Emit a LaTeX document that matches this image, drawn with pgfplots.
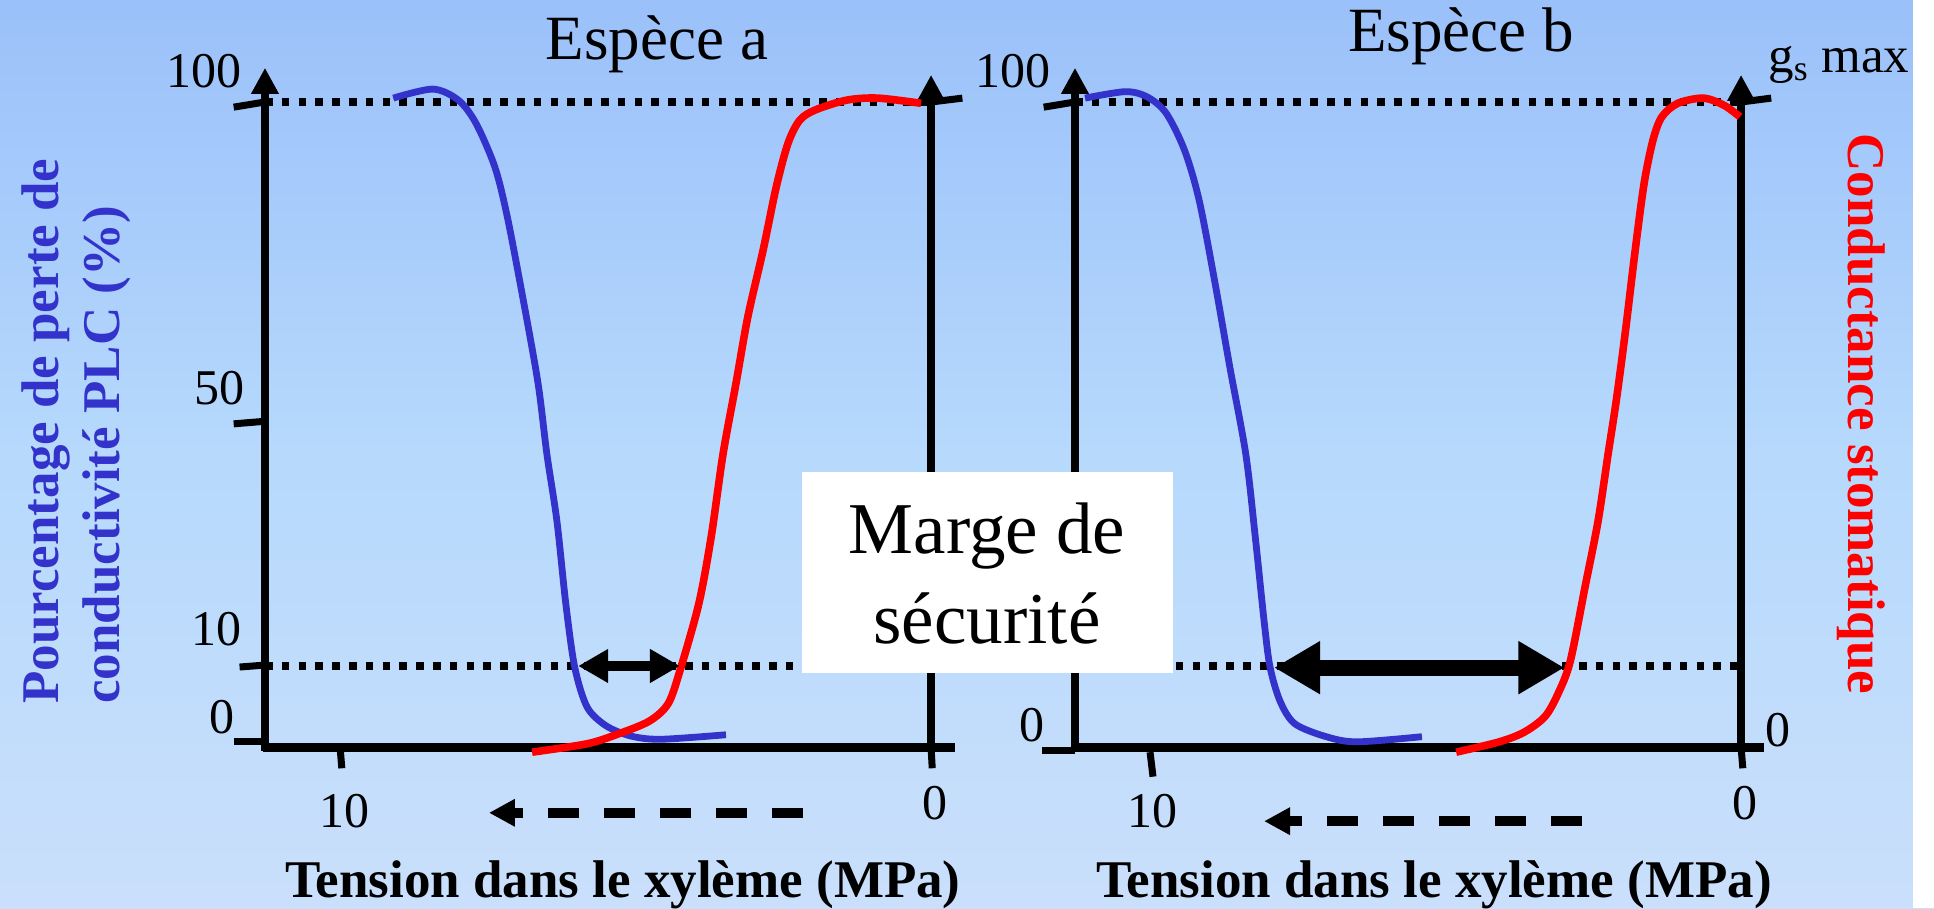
\documentclass[border=0pt]{standalone}
\usepackage{pgfplots}
\pgfplotsset{compat=1.18}
\usepackage{pgfplotstable}
\usepackage{fontspec}
\setmainfont{Liberation Serif}
\usetikzlibrary{arrows.meta}
\definecolor{plcblue}{HTML}{3333CC}
\definecolor{gsred}{HTML}{FF0000}
\definecolor{bgtop}{HTML}{80A8F8}
\definecolor{bgmid}{HTML}{B6D9FC}
\definecolor{bglow}{HTML}{CCE0FB}
\definecolor{bgbot}{HTML}{C4C8F7}
\pgfdeclareverticalshading{bgshade}{100bp}{color(0bp)=(bgbot); color(22bp)=(bglow); color(50bp)=(bgmid); color(100bp)=(bgtop)}

% Species a: PLC (%) vs xylem tension (MPa)
\pgfplotstableread{
t p
9.10 100.6
8.43 102.0
8.00 100.3
7.70 96.7
7.38 89.9
7.17 82.2
6.90 69.3
6.65 56.4
6.50 45.4
6.33 35.0
6.18 22.2
6.03 12.4
5.82 6.2
5.50 3.3
5.08 1.7
4.57 1.2
3.47 1.9
}\plca
% Species a: stomatal conductance
\pgfplotstableread{
t p
0.17 99.8
0.90 100.6
1.42 100.3
1.95 98.8
2.22 97.2
2.42 93.6
2.62 86.8
2.84 77.1
3.10 66.7
3.30 56.4
3.52 45.4
3.72 32.6
3.93 22.2
4.25 11.8
4.45 6.7
4.77 4.0
5.30 2.0
5.82 0.5
6.75 -0.8
}\gsa
% Species b: PLC
\pgfplotstableread{
t p
11.10 100.6
10.42 101.6
10.05 100.8
9.73 98.3
9.42 92.6
9.17 84.8
8.90 71.9
8.65 58.9
8.38 45.4
8.22 32.6
8.07 19.5
7.97 12.4
7.80 7.1
7.55 3.6
7.02 1.6
6.50 0.8
5.40 1.6
}\plcb
% Species b: stomatal conductance
\pgfplotstableread{
t p
0.02 97.7
0.29 99.5
0.64 100.6
1.07 99.8
1.34 97.7
1.49 94.1
1.64 87.4
1.79 77.1
1.96 64.2
2.11 53.8
2.25 45.4
2.42 35.0
2.64 24.8
2.89 13.3
3.10 8.2
3.32 4.7
3.67 2.3
4.09 0.8
4.82 -0.8
}\gsb

\pgfplotsset{panel/.style={hide axis, scale only axis, width=344.85pt, height=322.5pt,
  x dir=reverse, xmin=-0.4, xmax=11.27, ymin=0, ymax=100, clip=false, anchor=south west}}
\tikzset{
  dotline/.style={line width=3.6pt, dash pattern=on 3.8pt off 4.6pt},
  axln/.style={line width=3.8pt, -{Triangle[length=13pt,width=13pt]}},
  tk/.style={line width=3.5pt},
  tickfont/.style={font=\fontsize{25}{30}\selectfont, inner sep=0pt}
}

\begin{document}
\begin{tikzpicture}
\begin{scope}[x=0.5pt,y=-0.5pt]
\useasboundingbox (0,0) rectangle (1934,908);
\shade[shading=bgshade] (0,0) rectangle (1934,908);
\fill[white] (1913,0) rectangle (1934,908);
\end{scope}

% ---------- Species a ----------
\begin{axis}[panel, at={(132.5pt,-373.5pt)}]
\draw[dotline] (axis cs:11.27,100) -- (axis cs:0,100);
\draw[dotline] (axis cs:11.27,12.56) -- (axis cs:0,12.56);
\draw[line width=4.5pt] (axis cs:11.30,0) -- (axis cs:-0.4,0);
\draw[axln] (axis cs:11.27,-0.6) -- (axis cs:11.27,105.3);
\draw[axln] (axis cs:0,-0.6) -- (axis cs:0,104.2);
\draw[tk] (axis cs:11.27,100) -- (axis cs:11.80,99.2);
\draw[tk] (axis cs:11.27,50.5) -- (axis cs:11.80,50.1);
\draw[tk] (axis cs:11.27,12.7) -- (axis cs:11.70,12.4);
\draw[tk] (axis cs:11.27,0.9) -- (axis cs:11.80,0.9);
\draw[tk] (axis cs:0,100) -- (axis cs:-0.53,100.6);
\draw[tk] (axis cs:10,0) -- (axis cs:9.97,-3.3);
\draw[tk] (axis cs:0,0) -- (axis cs:-0.02,-3.3);
\addplot[plcblue, line width=3.4pt, smooth] table[x=t,y=p] {\plca};
\addplot[gsred, line width=3.8pt, smooth] table[x=t,y=p] {\gsa};
\draw[line width=5pt, {Triangle[length=15pt,width=16pt]}-{Triangle[length=15pt,width=16pt]}] (axis cs:5.97,12.56) -- (axis cs:4.25,12.56);
\draw[line width=5pt, dash pattern=on 15.5pt off 12.5pt, -{Triangle[length=13pt,width=13pt]}] (axis cs:2.17,-10.2) -- (axis cs:7.48,-10.2);
\end{axis}

% ---------- Species b ----------
\begin{axis}[panel, at={(537.5pt,-373.5pt)}]
\draw[dotline] (axis cs:11.27,100) -- (axis cs:0,100);
\draw[dotline] (axis cs:11.27,12.56) -- (axis cs:-0.08,12.56);
\draw[line width=4.5pt] (axis cs:11.27,0) -- (axis cs:-0.39,0);
\draw[axln] (axis cs:11.27,-0.6) -- (axis cs:11.27,105.3);
\draw[axln] (axis cs:0,-0.6) -- (axis cs:0,104.2);
\draw[tk] (axis cs:11.27,100) -- (axis cs:11.80,99.2);
\draw[tk] (axis cs:11.27,-0.5) -- (axis cs:11.82,-0.5);
\draw[tk] (axis cs:0,100) -- (axis cs:-0.51,100.6);
\draw[tk] (axis cs:10,-0.8) -- (axis cs:9.95,-4.6);
\draw[tk] (axis cs:0,0) -- (axis cs:-0.03,-3.3);
\addplot[plcblue, line width=3.4pt, smooth] table[x=t,y=p] {\plcb};
\addplot[gsred, line width=3.8pt, smooth] table[x=t,y=p] {\gsb};
\draw[line width=8pt, {Triangle[length=23pt,width=25pt]}-{Triangle[length=23pt,width=25pt]}] (axis cs:7.90,12.3) -- (axis cs:2.99,12.3);
\draw[line width=5pt, dash pattern=on 15.5pt off 12.5pt, -{Triangle[length=13pt,width=13pt]}] (axis cs:2.69,-11.5) -- (axis cs:8.07,-11.5);
\end{axis}

\begin{scope}[x=0.5pt,y=-0.5pt]
% safety margin box
\fill[white] (802,472) rectangle (1173,673);
\node[anchor=base, inner sep=0, font=\fontsize{36.5}{44}\selectfont] at (987,553) {Marge de};
\node[anchor=base, inner sep=0, font=\fontsize{36.5}{44}\selectfont] at (987,643) {sécurité};
% titles
\node[anchor=base, inner sep=0, font=\fontsize{31.5}{36}\selectfont] at (657,60) {Espèce a};
\node[anchor=base, inner sep=0, font=\fontsize{31.5}{36}\selectfont] at (1461,52) {Espèce b};
% y tick labels
\node[tickfont] at (204,71) {100};
\node[tickfont] at (219,388) {50};
\node[tickfont] at (216,629) {10};
\node[tickfont] at (222,717) {0};
\node[tickfont] at (1013,71) {100};
\node[tickfont] at (1032,725) {0};
\node[tickfont] at (1778,730) {0};
% x tick labels
\node[tickfont] at (344,811) {10};
\node[tickfont] at (935,803) {0};
\node[tickfont] at (1152,811) {10};
\node[tickfont] at (1745,803) {0};
% gs max
\node[anchor=base west, inner sep=0, font=\fontsize{25.5}{30}\selectfont] at (1768,73) {g\textsubscript{s} max};
% x labels
\node[anchor=base, inner sep=0, font=\bfseries\fontsize{26.5}{30}\selectfont] at (623,897) {Tension dans le xylème (MPa)};
\node[anchor=base, inner sep=0, font=\bfseries\fontsize{26.5}{30}\selectfont] at (1434,897) {Tension dans le xylème (MPa)};
% y labels
\node[rotate=90, anchor=base west, inner sep=0, text=plcblue, font=\bfseries\fontsize{26.5}{30}\selectfont] at (58,704) {Pourcentage de perte de};
\node[rotate=90, anchor=base west, inner sep=0, text=plcblue, font=\bfseries\fontsize{26.5}{30}\selectfont] at (119,704) {conductivité PLC (\%)};
\node[rotate=-90, anchor=base west, inner sep=0, text=gsred, font=\bfseries\fontsize{26.5}{30}\selectfont] at (1848,133) {Conductance stomatique};
\end{scope}
\end{tikzpicture}
\end{document}
